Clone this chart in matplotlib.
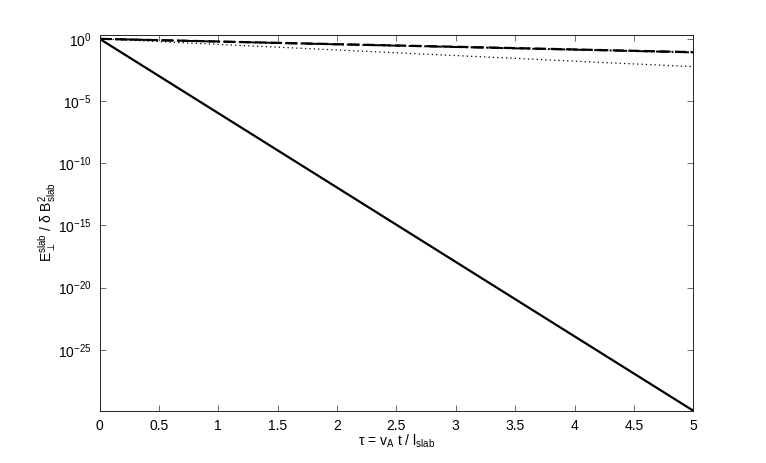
import numpy as np
import matplotlib
matplotlib.use('Agg')
import matplotlib.pyplot as plt
from matplotlib.ticker import FixedLocator, FixedFormatter, NullLocator

plt.rcParams.update({
    'font.family': ['Liberation Sans', 'DejaVu Sans'],
    'font.size': 10,
    'mathtext.fontset': 'custom',
    'mathtext.rm': 'Liberation Sans',
    'mathtext.it': 'Liberation Sans:italic',
})

# values (log-linear decay)
tau = [0, 1, 2, 3, 4, 5]
e_solid = [1.0, 1.05e-6, 1.1e-12, 1.15e-18, 1.2e-24, 1.26e-30]
e_dashed = [1.0, 0.61, 0.37, 0.23, 0.14, 0.085]
e_dashdot = [1.0, 0.60, 0.36, 0.22, 0.135, 0.081]
e_dotted = [1.0, 0.356, 0.127, 0.045, 0.016, 0.0058]

xticks = [0, 0.5, 1, 1.5, 2, 2.5, 3, 3.5, 4, 4.5, 5]
yticks = [1e-25, 1e-20, 1e-15, 1e-10, 1e-5, 1e0]
ytick_labels = [r'$10^{-25}$', r'$10^{-20}$', r'$10^{-15}$', r'$10^{-10}$',
                r'$10^{-5}$', r'$10^{0}$']

fig = plt.figure(figsize=(7.66, 4.63), dpi=100)
ax = fig.add_axes([0.130, 0.113, 0.775, 0.812])

ax.semilogy(tau, e_solid, '-', color='black', lw=1.6)
ax.semilogy(tau, e_dashed, '--', color='black', lw=1.6, dashes=(5, 2))
ax.semilogy(tau, e_dashdot, '-.', color='black', lw=1.4)
ax.semilogy(tau, e_dotted, ':', color='black', lw=0.9, dashes=(1, 2.5))

ax.set_xlim(0, 5)
ax.set_ylim(10 ** -29.9, 10 ** 0.33)
ax.set_xticks(xticks)
ax.set_xticklabels([f'{v:g}' for v in xticks])
ax.yaxis.set_major_locator(FixedLocator(yticks))
ax.yaxis.set_major_formatter(FixedFormatter(ytick_labels))
ax.yaxis.set_minor_locator(NullLocator())

ax.tick_params(direction='in', top=True, right=True, length=4, width=0.6,
               color='#555555', labelsize=10, pad=6)
for sp in ax.spines.values():
    sp.set_linewidth(0.7)
    sp.set_color('#222222')

ax.set_xlabel('τ = v$_{\\rm A}$ t / l$_{\\rm slab}$', labelpad=0)
ax.set_ylabel('E$_\\perp^{\\rm slab}$ / δ B$^2_{\\rm slab}$', labelpad=0)

fig.savefig('out.png', dpi=100)
